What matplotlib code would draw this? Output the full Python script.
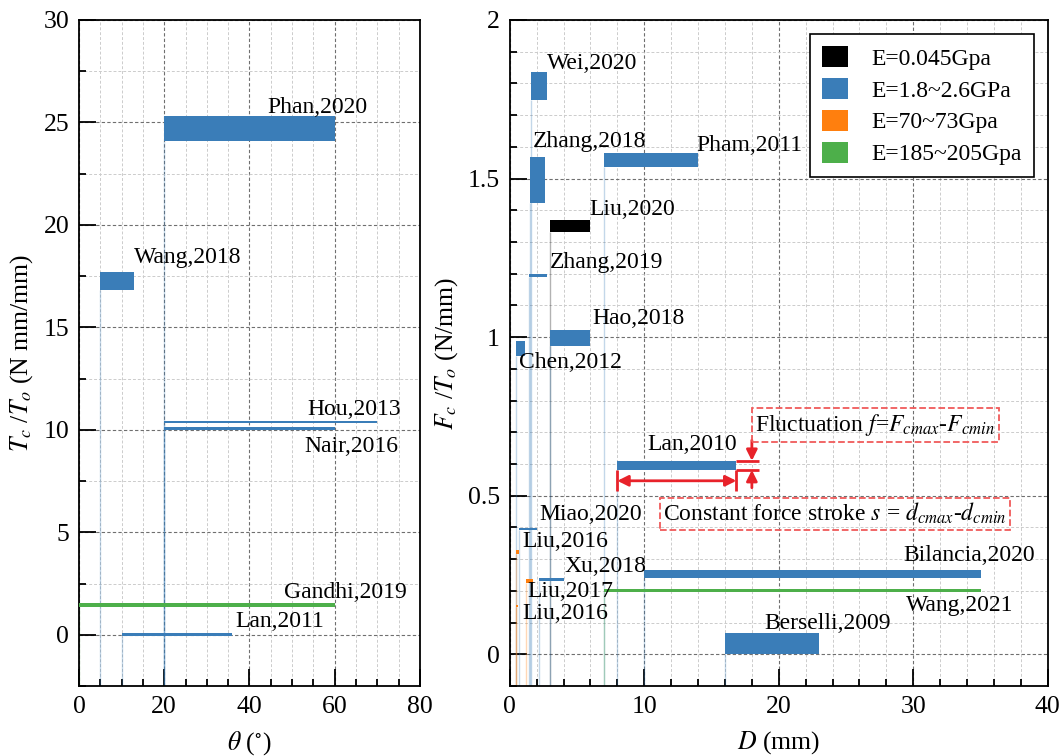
import matplotlib
matplotlib.use('Agg')
import matplotlib.pyplot as plt
from matplotlib.patches import Patch
from matplotlib.ticker import MultipleLocator, FuncFormatter

plt.rcParams['font.family'] = ['Liberation Serif', 'DejaVu Serif']
plt.rcParams['mathtext.fontset'] = 'stix'

# colours per material group
col = {'soft': '#000000', 'poly': '#3a7db8', 'alu': '#ff7f0e', 'steel': '#4daf4a'}

# ---- left panel: torsion, Tc/To vs theta
t_names = ['Wang,2018', 'Phan,2020', 'Hou,2013', 'Nair,2016', 'Gandhi,2019', 'Lan,2011']
t_x0 = [5, 20, 20, 20, 0, 10]
t_x1 = [12.8, 60, 70, 60, 60, 36]
t_y0 = [16.8, 24.1, 10.35, 9.98, 1.35, -0.06]
t_y1 = [17.7, 25.3, 10.42, 10.14, 1.55, 0.08]
t_grp = ['poly', 'poly', 'poly', 'poly', 'steel', 'poly']
t_lab_x = [12.8, 44.2, 53.6, 52.8, 48.1, 36.6]
t_lab_y = [18.4, 25.75, 11.0, 9.2, 2.05, 0.64]

# ---- right panel: linear, Fc/To vs D
d_names = ['Wei,2020', 'Zhang,2018', 'Pham,2011', 'Liu,2020', 'Zhang,2019', 'Hao,2018',
           'Chen,2012', 'Lan,2010', 'Miao,2020', 'Liu,2016', 'Xu,2018', 'Liu,2017',
           'Liu,2016', 'Bilancia,2020', 'Wang,2021', 'Berselli,2009']
d_x0 = [1.6, 1.5, 7.0, 3.0, 1.4, 3.0, 0.45, 8.0, 0.7, 0.45, 2.2, 1.2, 0.45, 10.0, 7.0, 16.0]
d_x1 = [2.8, 2.6, 14.0, 6.0, 2.8, 6.0, 1.1, 16.85, 2.0, 0.7, 4.0, 1.7, 0.6, 35.0, 35.0, 23.0]
d_y0 = [1.747, 1.424, 1.535, 1.33, 1.188, 0.973, 0.942, 0.581, 0.391, 0.315, 0.232, 0.225,
        0.148, 0.239, 0.195, 0.0]
d_y1 = [1.836, 1.568, 1.582, 1.37, 1.198, 1.023, 0.989, 0.61, 0.399, 0.33, 0.242, 0.236,
        0.155, 0.265, 0.205, 0.067]
d_grp = ['poly', 'poly', 'poly', 'soft', 'poly', 'poly', 'poly', 'poly', 'poly', 'alu',
         'poly', 'alu', 'alu', 'poly', 'steel', 'poly']
d_lab_x = [2.8, 1.73, 13.88, 5.9, 2.97, 6.12, 0.7, 10.2, 2.23, 0.91, 4.09, 1.31, 0.91,
           29.3, 29.45, 18.9]
d_lab_y = [1.864, 1.618, 1.605, 1.403, 1.235, 1.058, 0.919, 0.66, 0.442, 0.357, 0.278,
           0.199, 0.13, 0.31, 0.155, 0.098]

legend_labels = ['E=0.045Gpa', 'E=1.8~2.6GPa', 'E=70~73Gpa', 'E=185~205Gpa']
legend_groups = ['soft', 'poly', 'alu', 'steel']

FS = 17
red = '#e8222a'


def style_axes(ax, xmaj, xmin, ymaj, ymin):
    ax.xaxis.set_major_locator(MultipleLocator(xmaj))
    ax.xaxis.set_minor_locator(MultipleLocator(xmin))
    ax.yaxis.set_major_locator(MultipleLocator(ymaj))
    ax.yaxis.set_minor_locator(MultipleLocator(ymin))
    ax.grid(which='major', color='#6f6f6f', linestyle=(0, (3, 2)), linewidth=0.8)
    ax.grid(which='minor', color='#cccccc', linestyle=(0, (3, 2)), linewidth=0.7)
    ax.set_axisbelow(True)
    ax.tick_params(which='both', direction='in', top=False, right=False,
                   labelsize=18.5, width=1.3)
    ax.tick_params(which='major', length=12, pad=7)
    ax.tick_params(which='minor', length=5)
    for s in ax.spines.values():
        s.set_linewidth(1.3)


def draw_bars(ax, x0, x1, y0, y1, grp, ybot):
    for a, b, c, d, g in zip(x0, x1, y0, y1, grp):
        ax.vlines(a, ybot, c, color=col[g], alpha=0.3, linewidth=1.0, zorder=2)
        ax.bar(a, d - c, width=b - a, bottom=c, align='edge', color=col[g],
               edgecolor='none', zorder=3)


fig = plt.figure(figsize=(10.62, 7.56), dpi=100)

# left panel
ax1 = fig.add_axes([0.0744, 0.0926, 0.321, 0.881])
ax1.set_xlim(0, 80)
ax1.set_ylim(-2.5, 30)
style_axes(ax1, 20, 5, 5, 2.5)
draw_bars(ax1, t_x0, t_x1, t_y0, t_y1, t_grp, -2.5)
for n, x, y in zip(t_names, t_lab_x, t_lab_y):
    ax1.text(x, y, n, fontsize=FS, ha='left', va='center', zorder=5)
ax1.set_xlabel(r'$\theta$ ($^{\circ}$)', fontsize=18.5, labelpad=8)
ax1.set_ylabel(r'$T_c$ /$T_o$ (N mm/mm)', fontsize=18.5, labelpad=6)

# right panel
ax2 = fig.add_axes([0.480, 0.0926, 0.5066, 0.881])
ax2.set_xlim(0, 40)
ax2.set_ylim(-0.1, 2)
style_axes(ax2, 10, 2, 0.5, 0.1)
ax2.yaxis.set_major_formatter(FuncFormatter(lambda v, p: '%g' % v))
draw_bars(ax2, d_x0, d_x1, d_y0, d_y1, d_grp, -0.1)
for n, x, y in zip(d_names, d_lab_x, d_lab_y):
    ax2.text(x, y, n, fontsize=FS, ha='left', va='center', zorder=5)
ax2.set_xlabel(r'$D$ (mm)', fontsize=18.5, labelpad=8)
ax2.set_ylabel(r'$F_c$ /$T_o$ (N/mm)', fontsize=18.5, labelpad=6)

# fluctuation / stroke annotation around Lan,2010
lan = d_names.index('Lan,2010')
lx0, lx1, ly0, ly1 = d_x0[lan], d_x1[lan], d_y0[lan], d_y1[lan]
ax2.annotate('', xy=(lx0, 0.547), xytext=(lx1, 0.547),
             arrowprops=dict(arrowstyle='<|-|>', color=red, lw=2, mutation_scale=16,
                             shrinkA=0, shrinkB=0), zorder=6)
ax2.vlines([lx0, lx1], 0.515, ly0, color=red, linewidth=2, zorder=6)
ax2.hlines([ly1, ly0], lx1, 18.5, color=red, linewidth=2, zorder=6)
ax2.annotate('', xy=(18, ly1), xytext=(18, 0.675),
             arrowprops=dict(arrowstyle='-|>', color=red, lw=2, mutation_scale=16,
                             shrinkA=0, shrinkB=0), zorder=6)
ax2.annotate('', xy=(18, ly0), xytext=(18, 0.525),
             arrowprops=dict(arrowstyle='-|>', color=red, lw=2, mutation_scale=16,
                             shrinkA=0, shrinkB=0), zorder=6)

box = dict(boxstyle='square,pad=0.15', fc='none', ec='#f05a5a', ls='--', lw=1.3)
ax2.text(18.27, 0.723, r'Fluctuation $f$=$F_{cmax}$-$F_{cmin}$', fontsize=FS,
         ha='left', va='center', bbox=box, zorder=6)
ax2.text(11.4, 0.443, r'Constant force stroke $s$ = $d_{cmax}$-$d_{cmin}$', fontsize=FS,
         ha='left', va='center', bbox=box, zorder=6)

handles = [Patch(facecolor=col[g], edgecolor='none') for g in legend_groups]
leg = ax2.legend(handles, legend_labels, loc='upper right', fontsize=FS,
                 fancybox=False, framealpha=1, edgecolor='black',
                 handlelength=1.1, handleheight=1.0, labelspacing=0.35,
                 borderaxespad=0.6, handletextpad=1.0, borderpad=0.5)
leg.get_frame().set_linewidth(1.2)

fig.savefig('out.png', dpi=100)
